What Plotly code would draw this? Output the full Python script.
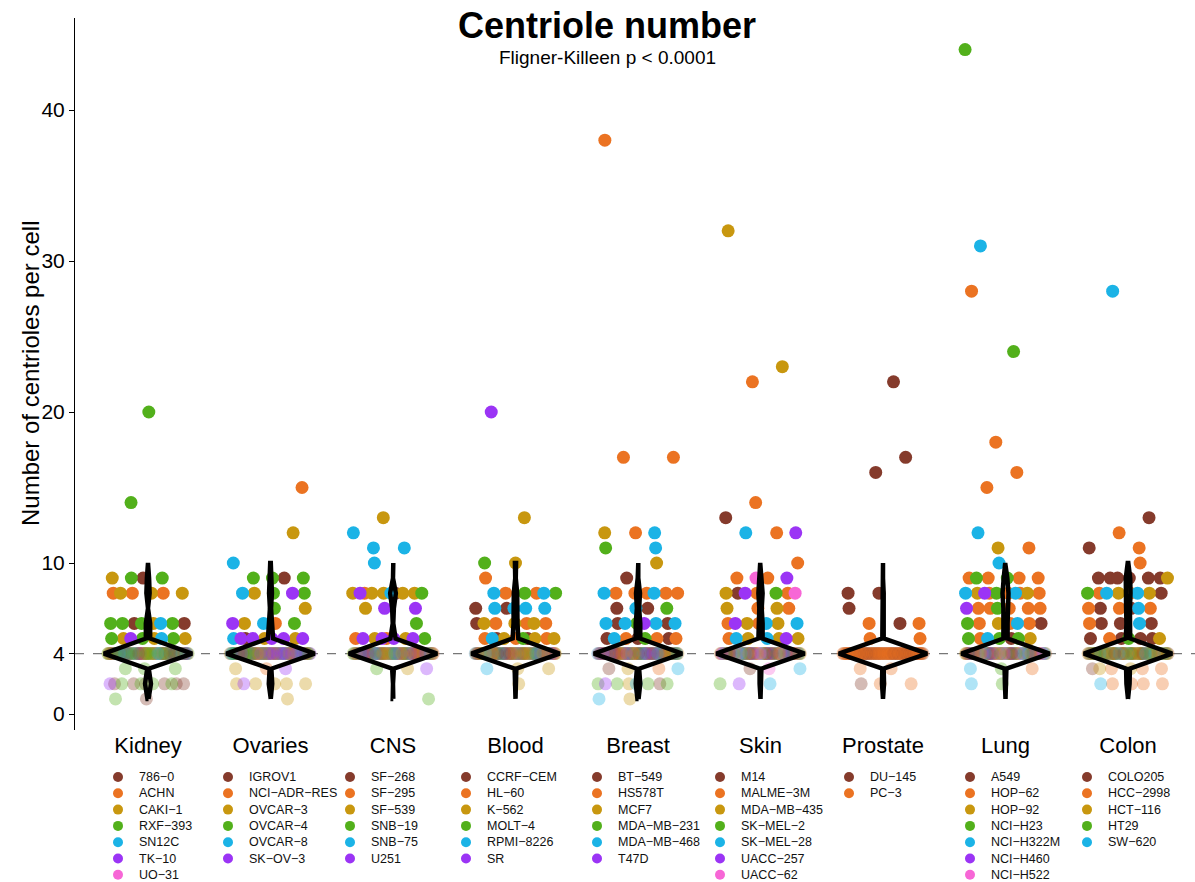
import plotly.graph_objects as go

# ---------------------------------------------------------------------------
# Data: number of scored cells per centriole count, for every cell line
# ---------------------------------------------------------------------------
GROUPS = ["Kidney", "Ovaries", "CNS", "Blood", "Breast", "Skin", "Prostate", "Lung", "Colon"]

PALETTE = ["#853B2C", "#EB7322", "#C8970F", "#52B01B", "#1BB3E6", "#9B34F5", "#F766D6"]

KIDNEY = {
    "786−0":   {1: 1, 2: 6, 4: 26, 6: 2, 9: 1},
    "ACHN":    {4: 20, 8: 3},
    "CAKI−1":  {4: 24, 5: 3, 6: 1, 8: 3, 9: 1},
    "RXF−393": {1: 1, 2: 4, 3: 3, 4: 32, 5: 3, 6: 4, 9: 2, 14: 1, 20: 1},
    "SN12C":   {4: 26, 5: 1, 6: 1},
    "TK−10":   {2: 1, 4: 20, 5: 1},
    "UO−31":   {4: 16},
}
OVARIES = {
    "IGROV1":      {4: 24, 5: 1, 9: 1},
    "NCI−ADR−RES": {3: 1, 4: 20, 6: 1, 15: 1},
    "OVCAR−3":     {1: 1, 2: 5, 3: 1, 4: 26, 5: 2, 6: 1, 7: 1, 8: 1, 12: 1},
    "OVCAR−4":     {4: 28, 6: 1, 7: 1, 8: 2, 9: 3},
    "OVCAR−8":     {4: 24, 5: 1, 6: 1, 8: 1, 10: 1},
    "SK−OV−3":     {2: 1, 3: 1, 4: 32, 5: 5, 6: 1, 8: 1},
}
CNS = {
    "SF−268": {4: 24, 8: 1},
    "SF−295": {4: 26, 5: 2, 8: 1},
    "SF−539": {3: 1, 4: 28, 5: 2, 7: 1, 8: 5, 13: 1},
    "SNB−19": {1: 1, 3: 1, 4: 24, 5: 1, 6: 1, 8: 1},
    "SNB−75": {4: 26, 8: 1, 10: 1, 11: 2, 12: 1},
    "U251":   {3: 1, 4: 26, 5: 4, 7: 2, 8: 1},
}
BLOOD = {
    "CCRF−CEM":  {4: 26, 5: 2, 6: 1, 7: 2},
    "HL−60":     {4: 28, 5: 3, 6: 3, 8: 2, 9: 1},
    "K−562":     {2: 1, 3: 2, 4: 28, 5: 3, 6: 3, 10: 1, 13: 1},
    "MOLT−4":    {4: 24, 5: 1, 8: 2, 10: 1},
    "RPMI−8226": {3: 1, 4: 26, 5: 1, 7: 4, 8: 2},
    "SR":        {4: 24, 20: 1},
}
BREAST = {
    "BT−549":     {2: 1, 3: 1, 4: 26, 5: 3, 6: 2, 7: 2, 9: 1},
    "HS578T":     {3: 1, 4: 28, 5: 3, 8: 5, 12: 1, 17: 2, 38: 1},
    "MCF7":       {1: 1, 2: 1, 3: 1, 4: 24, 10: 1, 12: 1},
    "MDA−MB−231": {2: 4, 4: 24, 5: 1, 6: 1, 7: 1, 11: 1},
    "MDA−MB−468": {1: 1, 2: 1, 3: 1, 4: 26, 5: 1, 6: 4, 7: 1, 8: 2, 11: 1, 12: 1},
    "T47D":       {2: 1, 4: 28, 6: 1},
}
SKIN = {
    "M14":        {3: 1, 4: 21, 8: 1, 13: 1},
    "MALME−3M":   {4: 21, 5: 1, 6: 2, 7: 2, 8: 2, 9: 2, 10: 1, 12: 1, 14: 1, 22: 1},
    "MDA−MB−435": {4: 21, 5: 3, 6: 2, 7: 2, 8: 1, 23: 1, 32: 1},
    "SK−MEL−2":   {2: 1, 4: 21, 8: 1},
    "SK−MEL−28":  {2: 1, 3: 1, 4: 21, 5: 2, 6: 2, 12: 1},
    "UACC−257":   {2: 1, 4: 21, 5: 1, 6: 1, 8: 1, 9: 1, 12: 1},
    "UACC−62":    {3: 1, 4: 21, 8: 1, 9: 1},
}
PROSTATE = {
    "DU−145": {2: 1, 4: 52, 6: 1, 7: 1, 8: 2, 16: 1, 17: 1, 22: 1},
    "PC−3":   {2: 2, 3: 2, 4: 78, 5: 2, 6: 2},
}
LUNG = {
    "A549":      {4: 21, 5: 1, 6: 1},
    "HOP−62":    {3: 1, 4: 21, 5: 1, 6: 3, 7: 5, 8: 4, 9: 4, 11: 1, 15: 1, 16: 1, 18: 1, 28: 1},
    "HOP−92":    {4: 21, 5: 1, 6: 1, 8: 2, 11: 1},
    "NCI−H23":   {2: 1, 3: 1, 4: 21, 5: 3, 6: 1, 7: 1, 8: 1, 9: 2, 24: 1, 44: 1},
    "NCI−H322M": {2: 1, 3: 1, 4: 21, 5: 1, 6: 1, 8: 2, 10: 1, 12: 1, 31: 1},
    "NCI−H460":  {4: 21, 7: 1, 8: 1},
    "NCI−H522":  {4: 21},
}
COLON = {
    "COLO205":  {3: 1, 4: 28, 5: 4, 6: 3, 7: 2, 8: 1, 9: 6, 11: 1, 13: 1},
    "HCC−2998": {2: 4, 3: 3, 4: 28, 5: 1, 6: 1, 7: 3, 8: 2, 10: 1, 11: 1, 12: 1},
    "HCT−116":  {3: 2, 4: 28, 5: 1, 8: 2, 9: 1},
    "HT29":     {4: 28, 5: 1, 8: 1},
    "SW−620":   {2: 1, 4: 28, 6: 1, 7: 1, 8: 2, 28: 1},
}

TABLES = [KIDNEY, OVARIES, CNS, BLOOD, BREAST, SKIN, PROSTATE, LUNG, COLON]

Y_TICKS = [0, 4, 10, 20, 30, 40]
VIOLIN_LEVELS = list(range(1, 11))
REFERENCE_LEVEL = 4

# ---------------------------------------------------------------------------
# Layout constants
# ---------------------------------------------------------------------------
W, H = 1195, 882
M_L, M_T = 75, 18
PLOT_BOTTOM = 730                       # pixel row of the bottom of the main panel
MAIN_DOMAIN0 = (H - PLOT_BOTTOM) / (H - M_T)
LEG_DOMAIN1 = 0.17
FONT = "Liberation Sans, Arial, Helvetica, sans-serif"
JITTER = 0.33                          # half-width of horizontal jitter, category units
VIOLIN_HALF = 0.36                     # maximum violin half-width, category units

# legend block: x pixel of the key dots per group, first row and row step
LEG_DOT_X = [118, 228, 350, 466, 597, 720, 849, 970, 1087]
LEG_ROW0, LEG_STEP = 777, 16.3

fig = go.Figure()


def mixed_order(groups):
    """Interleave the per-line member lists, rotating the start line each round
    so that no single colour ends up on top or in regular stripes."""
    out = []
    n = len(groups)
    longest = max(len(g) for g in groups) if groups else 0
    for k in range(longest):
        start = (k * 3) % n
        for j in range(n):
            g = groups[(start + j) % n]
            if k < len(g):
                out.append(g[k])
    return out


# ---------------------------------------------------------------------------
# Jittered cells
# ---------------------------------------------------------------------------
GOLD = 0.6180339887
for gi, table in enumerate(TABLES):
    xs, ys, cols, ops = [], [], [], []
    by_level = {}
    for li, (line, counts) in enumerate(table.items()):
        for val, n in counts.items():
            by_level.setdefault(val, []).append([li] * n)
    # faint rows first, then the reference row, then the solid rows
    order = sorted(by_level, key=lambda v: (0 if v < REFERENCE_LEVEL else 1 if v == REFERENCE_LEVEL else 2, v))
    for val in order:
        if val == REFERENCE_LEVEL:
            members = mixed_order(by_level[val])
        else:
            members = [li for grp in by_level[val] for li in grp]
        phase = (0.37 * val + 0.23 * gi + 0.11) % 1.0
        for k, li in enumerate(members):
            u = (phase + k * GOLD) % 1.0
            xs.append(gi + 1 + (2 * u - 1) * JITTER)
            ys.append(val)
            cols.append(PALETTE[li])
            if val < REFERENCE_LEVEL:
                ops.append(0.35)
            elif val == REFERENCE_LEVEL:
                ops.append(0.22)
            else:
                ops.append(1.0)
    fig.add_trace(go.Scatter(
        x=xs, y=ys, mode="markers",
        marker=dict(size=13, color=cols, opacity=ops, line=dict(width=0)),
        hoverinfo="skip", showlegend=False, xaxis="x", yaxis="y",
    ))

# ---------------------------------------------------------------------------
# Violins: relative frequency of each count between 1 and 10
# ---------------------------------------------------------------------------
for gi, table in enumerate(TABLES):
    freq = [sum(c.get(v, 0) for c in table.values()) for v in VIOLIN_LEVELS]
    peak = max(freq)
    half = [VIOLIN_HALF * f / peak for f in freq]
    cx = gi + 1
    vx = [cx + h for h in half] + [cx - h for h in reversed(half)] + [cx + half[0]]
    vy = VIOLIN_LEVELS + list(reversed(VIOLIN_LEVELS)) + [VIOLIN_LEVELS[0]]
    fig.add_trace(go.Scatter(
        x=vx, y=vy, mode="lines",
        line=dict(color="black", width=4.5),
        hoverinfo="skip", showlegend=False, xaxis="x", yaxis="y",
    ))

# ---------------------------------------------------------------------------
# Per-tissue keys below the panel
# ---------------------------------------------------------------------------
annotations = []
for gi, table in enumerate(TABLES):
    names = list(table.keys())
    kx = [LEG_DOT_X[gi]] * len(names)
    ky = [LEG_ROW0 + i * LEG_STEP for i in range(len(names))]
    fig.add_trace(go.Scatter(
        x=kx, y=ky, mode="markers",
        marker=dict(size=10, color=PALETTE[:len(names)], line=dict(width=0)),
        hoverinfo="skip", showlegend=False, xaxis="x2", yaxis="y2",
    ))
    for name, yy in zip(names, ky):
        annotations.append(dict(
            x=LEG_DOT_X[gi] + 19, y=yy, xref="x2", yref="y2", text=name,
            showarrow=False, xanchor="left", yanchor="middle",
            font=dict(family=FONT, size=12.5, color="#111"),
        ))

# titles
annotations.append(dict(
    x=(607 - M_L) / (W - M_L), y=(H - 25) / (H - M_T), xref="paper", yref="paper",
    text="<b>Centriole number</b>", showarrow=False, xanchor="center", yanchor="middle",
    font=dict(family=FONT, size=36, color="black"),
))
annotations.append(dict(
    x=(607 - M_L) / (W - M_L), y=(H - 58) / (H - M_T), xref="paper", yref="paper",
    text="Fligner-Killeen p < 0.0001", showarrow=False, xanchor="center", yanchor="middle",
    font=dict(family=FONT, size=19, color="black"),
))
annotations.append(dict(
    x=(30 - M_L) / (W - M_L), y=(H - 374) / (H - M_T), xref="paper", yref="paper",
    text="Number of centrioles per cell", textangle=-90, showarrow=False,
    xanchor="center", yanchor="middle",
    font=dict(family=FONT, size=24, color="black"),
))

px_per_unit = 15.1
y_lo = (714 - PLOT_BOTTOM) / px_per_unit
y_hi = (714 - M_T) / px_per_unit
x_unit = 122.5
x_lo = 1 - (148 - M_L) / x_unit
x_hi = 1 + (W - 148) / x_unit

fig.update_layout(
    width=W, height=H,
    margin=dict(l=M_L, r=0, t=M_T, b=0, pad=0),
    paper_bgcolor="white", plot_bgcolor="rgba(0,0,0,0)",
    font=dict(family=FONT, color="black"),
    showlegend=False,
    xaxis=dict(
        domain=[0, 1], range=[x_lo, x_hi], anchor="y",
        tickvals=list(range(1, len(GROUPS) + 1)), ticktext=GROUPS,
        tickfont=dict(size=22, color="black"), ticks="", showline=False,
        showgrid=False, zeroline=False,
    ),
    yaxis=dict(
        domain=[MAIN_DOMAIN0, 1], range=[y_lo, y_hi], anchor="x",
        tickvals=Y_TICKS, tickfont=dict(size=21, color="black"),
        ticks="outside", ticklen=5, tickcolor="black", tickwidth=1,
        showline=True, linecolor="black", linewidth=1,
        showgrid=False, zeroline=False,
    ),
    xaxis2=dict(domain=[0, 1], range=[M_L, W], anchor="y2", visible=False),
    yaxis2=dict(domain=[0, LEG_DOMAIN1], range=[H, H - LEG_DOMAIN1 * (H - M_T)],
                anchor="x2", visible=False),
    shapes=[dict(
        type="line", xref="x domain", yref="y", x0=0, x1=1,
        y0=REFERENCE_LEVEL, y1=REFERENCE_LEVEL,
        line=dict(color="#777777", width=1.2, dash="dash"), layer="below",
    )],
    annotations=annotations,
)

fig.write_html("out.html")
